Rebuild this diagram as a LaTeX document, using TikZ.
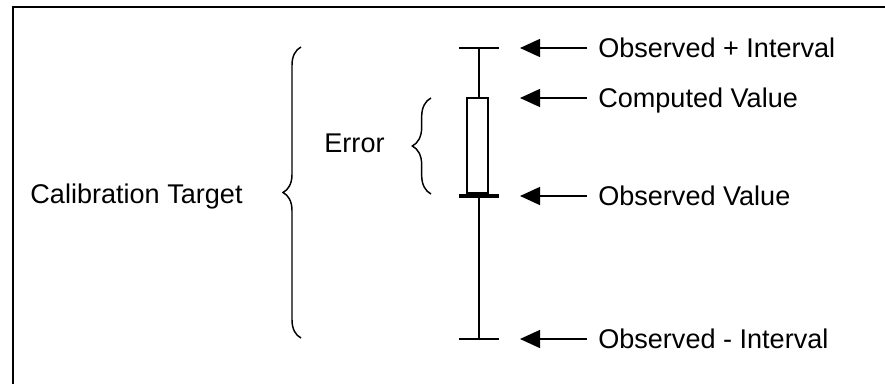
\documentclass[tikz,border=0pt]{standalone}
\usepackage{fontspec}
\setmainfont{Liberation Sans}
\usetikzlibrary{arrows.meta,decorations.pathreplacing}

\tikzset{
	lbl/.style={anchor=west, inner xsep=8.25pt, inner ysep=0pt, text height=14.5pt, text depth=0pt, font=\fontsize{20.3}{24}\selectfont},
	txt/.style={inner sep=0pt, text height=14.5pt, text depth=0pt, font=\fontsize{20.3}{24}\selectfont},
	pointer/.style={line width=1.1pt, -{Triangle[length=15pt,width=13.5pt]}},
	curly/.style={line width=1.1pt, decorate, decoration={brace, amplitude=#1}}
}

\begin{document}
\begin{tikzpicture}[x=0.75pt, y=0.75pt]
	  \useasboundingbox (0,0) rectangle (885,383);
	  \fill [white] (-10,-10) rectangle (895,393);
	  \clip (0,0) rectangle (885,383);

	  \draw [line width=2pt] (13,-20)--(13,376)--(910,376);

	  \node [txt] (calib) at (136.5,189) {Calibration Target};
	  \node [txt] (err) at (354.5,240) {Error};

	  \draw [curly=13.5pt] (301,45)--(301,336);
	  \draw [curly=14pt] (431,189)--(431,285);

	  \draw [line width=1.2pt] (459,335)--(499,335);
	  \draw [line width=1.2pt] (479,335)--(479,285);
	  \draw [line width=1.2pt] (467,190) rectangle (488,285);
	  \draw [line width=3pt] (459,187)--(499,187);
	  \draw [line width=1.2pt] (479,187)--(479,44);
	  \draw [line width=1.2pt] (459,44)--(499,44);

	  \coordinate (pplus) at (520,335);
	  \coordinate (pcomp) at (520,285);
	  \coordinate (pobs) at (520,187);
	  \coordinate (pminus) at (520,44);

	  \node [lbl] (oplus) at (587,335) {Observed + Interval};
	  \node [lbl] (comp) at (587,285) {Computed Value};
	  \node [lbl] (obs) at (587,187) {Observed Value};
	  \node [lbl] (ominus) at (587,44) {Observed - Interval};

	  \draw [pointer] (oplus.west)--(pplus);
	  \draw [pointer] (comp.west)--(pcomp);
	  \draw [pointer] (obs.west)--(pobs);
	  \draw [pointer] (ominus.west)--(pminus);
	\end{tikzpicture}
\end{document}
